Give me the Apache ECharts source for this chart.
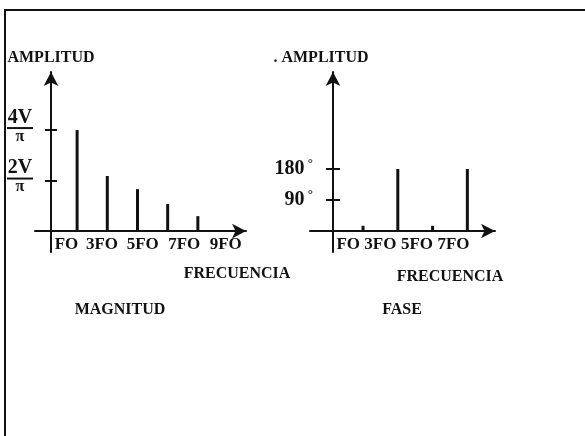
<!DOCTYPE html>
<html><head><meta charset="utf-8">
<script src="https://cdn.jsdelivr.net/npm/echarts@6/dist/echarts.min.js"></script>
<style>html,body{margin:0;padding:0;background:#fff}#c{width:585px;height:436px}</style>
</head><body><div id="c"></div>
<script>
// ---- MAGNITUD (left) ----
const harmonics = [1, 3, 5, 7, 9];
const magnitude = [4, 2.18, 1.66, 1.07, 0.59];          // in units of V/π
const magTickValues = [2, 4];
const magTickNumerators = ['2V', '4V'];
const magTickDenominator = 'π';
const magLabels = ['FO', '3FO', '5FO', '7FO', '9FO'];
const magLabelAt = [0.3, 2.65, 5.35, 8.1, 10.85];

// ---- FASE (right) ----
const phaseHarmonics = [1, 3, 5, 7];
const phase = [15, 180, 15, 180];                        // degrees
const phaseTickValues = [90, 180];
const phaseTickLabels = ['90', '180'];
const phaseLabels = ['FO', '3FO', '5FO', '7FO'];
const phaseLabelAt = [0.15, 2, 4.1, 6.2];

const FONT = '"Liberation Serif", "DejaVu Serif", serif';
const INK = '#111';

function pick(vals, labels, v) {
  let best = 0, d = Infinity;
  vals.forEach((a, i) => { const e = Math.abs(a - v); if (e < d) { d = e; best = i; } });
  return labels[best];
}

const chart = echarts.init(document.getElementById('c'), null, { renderer: 'canvas' });

const axisLineBase = { lineStyle: { color: INK, width: 2 } };

chart.setOption({
  animation: false,
  backgroundColor: '#fff',
  title: [
    { text: 'FRECUENCIA', left: 237, top: 266, textAlign: 'center', padding: 0,
      textStyle: { fontFamily: FONT, fontWeight: 'bold', fontSize: 16, color: INK } },
    { text: 'FRECUENCIA', left: 450, top: 269, textAlign: 'center', padding: 0,
      textStyle: { fontFamily: FONT, fontWeight: 'bold', fontSize: 16, color: INK } },
    { text: 'MAGNITUD', left: 120, top: 302, textAlign: 'center', padding: 0,
      textStyle: { fontFamily: FONT, fontWeight: 'bold', fontSize: 16, color: INK } },
    { text: 'FASE', left: 402, top: 302, textAlign: 'center', padding: 0,
      textStyle: { fontFamily: FONT, fontWeight: 'bold', fontSize: 16, color: INK } }
  ],
  graphic: [
    { type: 'polyline', shape: { points: [[5, 436], [5, 10], [585, 10]] },
      style: { stroke: INK, lineWidth: 2, fill: null }, silent: true }
  ],
  grid: [
    { left: 35, right: 339, top: 72, bottom: 184 },
    { left: 310, right: 90, top: 72, bottom: 184 }
  ],
  xAxis: [
    { gridIndex: 0, type: 'value', min: -1.79, max: 12.19,
      axisLine: Object.assign({ onZero: true, symbol: ['none', 'arrow'], symbolSize: [11, 14] }, axisLineBase),
      axisTick: { show: false }, splitLine: { show: false },
      axisLabel: { customValues: magLabelAt, margin: -16, color: INK, fontFamily: FONT, fontWeight: 'bold', fontSize: 17,
        formatter: v => pick(magLabelAt, magLabels, v) } },
    { gridIndex: 1, type: 'value', min: -2.05, max: 8.59,
      axisLine: Object.assign({ onZero: true, symbol: ['none', 'arrow'], symbolSize: [11, 14] }, axisLineBase),
      axisTick: { show: false }, splitLine: { show: false },
      axisLabel: { customValues: phaseLabelAt, margin: -16, color: INK, fontFamily: FONT, fontWeight: 'bold', fontSize: 17,
        formatter: v => pick(phaseLabelAt, phaseLabels, v) } }
  ],
  yAxis: [
    { gridIndex: 0, type: 'value', min: -0.83, max: 6.3, position: 'left', offset: -16,
      name: 'AMPLITUD', nameLocation: 'end', nameGap: 6,
      nameTextStyle: { fontFamily: FONT, fontWeight: 'bold', fontSize: 16, color: INK },
      axisLine: Object.assign({ show: true, onZero: false, symbol: ['none', 'arrow'], symbolSize: [11, 14] }, axisLineBase),
      axisTick: { show: true, customValues: magTickValues, length: 6, lineStyle: { color: INK, width: 2 } },
      splitLine: { show: false },
      axisLabel: { customValues: magTickValues, margin: 18, padding: [0, 0, 8, 0],
        formatter: v => '{n|' + pick(magTickValues, magTickNumerators, v) + '}\n{l| }\n{d|' + magTickDenominator + '}',
        rich: {
          n: { fontFamily: FONT, fontWeight: 'bold', fontSize: 20, color: INK, width: 26, align: 'center', lineHeight: 18 },
          l: { fontSize: 2, lineHeight: 3, height: 2, width: 26, backgroundColor: INK },
          d: { fontFamily: FONT, fontWeight: 'bold', fontSize: 16, color: INK, width: 26, align: 'center', lineHeight: 14 }
        } } },
    { gridIndex: 0, type: 'value', min: -0.83, max: 6.3, position: 'left', offset: -16,
      axisLine: { show: false, onZero: false },
      axisTick: { show: true, inside: true, customValues: magTickValues, length: 6, lineStyle: { color: INK, width: 2 } },
      splitLine: { show: false }, axisLabel: { show: false } },
    { gridIndex: 1, type: 'value', min: -61, max: 461.6, position: 'left', offset: -23,
      name: '. AMPLITUD', nameLocation: 'end', nameGap: 6,
      nameTextStyle: { fontFamily: FONT, fontWeight: 'bold', fontSize: 16, color: INK, padding: [0, 24, 0, 0] },
      axisLine: Object.assign({ show: true, onZero: false, symbol: ['none', 'arrow'], symbolSize: [11, 14] }, axisLineBase),
      axisTick: { show: true, customValues: phaseTickValues, length: 7, lineStyle: { color: INK, width: 2 } },
      splitLine: { show: false },
      axisLabel: { customValues: phaseTickValues, margin: 20,
        formatter: v => '{v|' + pick(phaseTickValues, phaseTickLabels, v) + '}{s| °}',
        rich: {
          v: { fontFamily: FONT, fontWeight: 'bold', fontSize: 20, color: INK },
          s: { fontFamily: FONT, fontWeight: 'bold', fontSize: 13, color: INK, padding: [0, 0, 10, 0] }
        } } },
    { gridIndex: 1, type: 'value', min: -61, max: 461.6, position: 'left', offset: -23,
      axisLine: { show: false, onZero: false },
      axisTick: { show: true, inside: true, customValues: phaseTickValues, length: 7, lineStyle: { color: INK, width: 2 } },
      splitLine: { show: false }, axisLabel: { show: false } }
  ],
  series: [
    { type: 'bar', xAxisIndex: 0, yAxisIndex: 0, barWidth: 3, silent: true,
      itemStyle: { color: INK },
      data: harmonics.map((h, i) => [h, magnitude[i]]) },
    { type: 'bar', xAxisIndex: 1, yAxisIndex: 2, barWidth: 3, silent: true,
      itemStyle: { color: INK },
      data: phaseHarmonics.map((h, i) => [h, phase[i]]) }
  ]
});
</script>
</body></html>
